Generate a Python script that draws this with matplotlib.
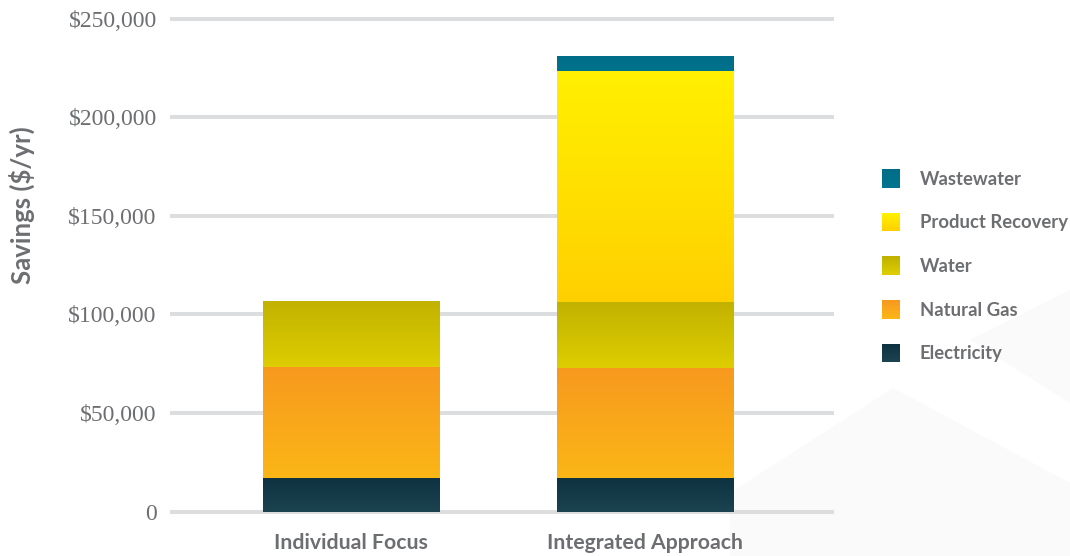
import numpy as np
import matplotlib
matplotlib.use("Agg")
import matplotlib.pyplot as plt
from matplotlib.colors import LinearSegmentedColormap
from matplotlib.patches import Rectangle, Polygon
from matplotlib.legend_handler import HandlerBase

# --- data -------------------------------------------------------------
categories = ["Individual Focus", "Integrated Approach"]
series_names = ["Electricity", "Natural Gas", "Water", "Product Recovery", "Wastewater"]
electricity = [17000, 17000]
natural_gas = [56500, 56000]
water = [33500, 33500]
product_recovery = [0, 117000]
wastewater = [0, 7500]
y_ticks = [0, 50000, 100000, 150000, 200000, 250000]
y_tick_labels = ["0", "$50,000", "$100,000", "$150,000", "$200,000", "$250,000"]

series_values = [electricity, natural_gas, water, product_recovery, wastewater]
# (top colour, bottom colour) for each series' vertical gradient
gradients = [
    ("#0e3240", "#1c4350"),
    ("#f7991f", "#fbb616"),
    ("#c2b200", "#ddcd00"),
    ("#fff000", "#ffd000"),
    ("#006d88", "#00738d"),
]

GREY = "#6d6e71"
SANS = ["Lato", "DejaVu Sans"]
SERIF = ["Liberation Serif", "DejaVu Serif"]

fig = plt.figure(figsize=(10.70, 5.56), dpi=100)
fig.patch.set_facecolor("white")

# faint background facets
bg = "#fafafa"
fig.add_artist(Polygon([(730/1070, 1-493/556), (893/1070, 1-388/556), (1.0, 1-483/556),
                        (1.0, 0.0), (730/1070, 0.0)],
                       closed=True, transform=fig.transFigure, facecolor=bg,
                       edgecolor="none", zorder=-10))
fig.add_artist(Polygon([(970/1070, 1-340/556), (1.0, 1-290/556), (1.0, 1-403/556)],
                       closed=True, transform=fig.transFigure, facecolor=bg,
                       edgecolor="none", zorder=-10))

ax = fig.add_axes([172/1070, 0.0746, 660/1070, 0.8985])
ax.set_facecolor("none")

x = np.arange(len(categories))
bar_width = 0.6
xlim = (-0.609, 1.636)
ylim = (-1500, 252000)

bottoms = np.zeros(len(categories))
for name, vals, (c_top, c_bot) in zip(series_names, series_values, gradients):
    vals = np.asarray(vals, dtype=float)
    bars = ax.bar(x, vals, bar_width, bottom=bottoms, color="none",
                  edgecolor="none", label=name, zorder=3)
    cmap = LinearSegmentedColormap.from_list(name, [c_bot, c_top])
    grad = np.linspace(0, 1, 256).reshape(-1, 1)
    for patch, v in zip(bars.patches, vals):
        if v <= 0:
            continue
        x0, y0 = patch.get_x(), patch.get_y()
        w, h = patch.get_width(), patch.get_height()
        im = ax.imshow(grad, cmap=cmap, origin="lower", aspect="auto",
                       extent=(x0, x0 + w, y0, y0 + h), zorder=3,
                       interpolation="bilinear")
        im.set_clip_path(patch)
    bottoms = bottoms + vals

ax.set_xlim(*xlim)
ax.set_ylim(*ylim)
ax.set_aspect("auto")

# horizontal gridlines
for t in y_ticks:
    ax.axhline(t, color="#dcdddf", lw=2.9, zorder=1, clip_on=False)

ax.set_yticks(y_ticks)
ax.set_yticklabels(y_tick_labels, fontfamily=SERIF, fontsize=17, color=GREY)
ax.set_xticks(x)
ax.set_xticklabels(categories, fontfamily=SANS, fontweight="bold", fontsize=15.3, color=GREY)
ax.tick_params(axis="y", length=0, pad=11)
ax.tick_params(axis="x", length=0, pad=13)
for s in ax.spines.values():
    s.set_visible(False)

fig.text(22/1070, 1 - 205/556, "Savings ($/yr)", rotation=90, ha="center", va="center",
         fontfamily=SANS, fontweight="bold", fontsize=18.5, color=GREY)


class GradientHandler(HandlerBase):
    def __init__(self, top, bottom, n=12):
        super().__init__()
        self.top, self.bottom, self.n = top, bottom, n

    def create_artists(self, legend, orig_handle, xdescent, ydescent, width,
                       height, fontsize, trans):
        cmap = LinearSegmentedColormap.from_list("g", [self.bottom, self.top])
        side = height
        x0 = -xdescent + (width - side) / 2
        y0 = -ydescent
        arts = []
        for i in range(self.n):
            r = Rectangle((x0, y0 + side * i / self.n), side, side / self.n + 0.3,
                          facecolor=cmap(i / (self.n - 1)), edgecolor="none",
                          transform=trans)
            arts.append(r)
        return arts


handles = []
handler_map = {}
for name, (c_top, c_bot) in zip(series_names, gradients):
    h = Rectangle((0, 0), 1, 1, label=name)
    handles.append(h)
    handler_map[h] = GradientHandler(c_top, c_bot)

handles = handles[::-1]
fs_leg = 13.3
leg = fig.legend(handles=handles, labels=[h.get_label() for h in handles],
                 handler_map=handler_map, loc="upper left",
                 bbox_to_anchor=(873/1070, 1 - 162/556), frameon=False,
                 prop={"family": SANS, "weight": "bold", "size": fs_leg},
                 labelcolor=GREY, handlelength=1.14, handleheight=1.14,
                 handletextpad=1.0, labelspacing=1.37, borderaxespad=0)

fig.savefig("out.png", dpi=100, facecolor="white")
